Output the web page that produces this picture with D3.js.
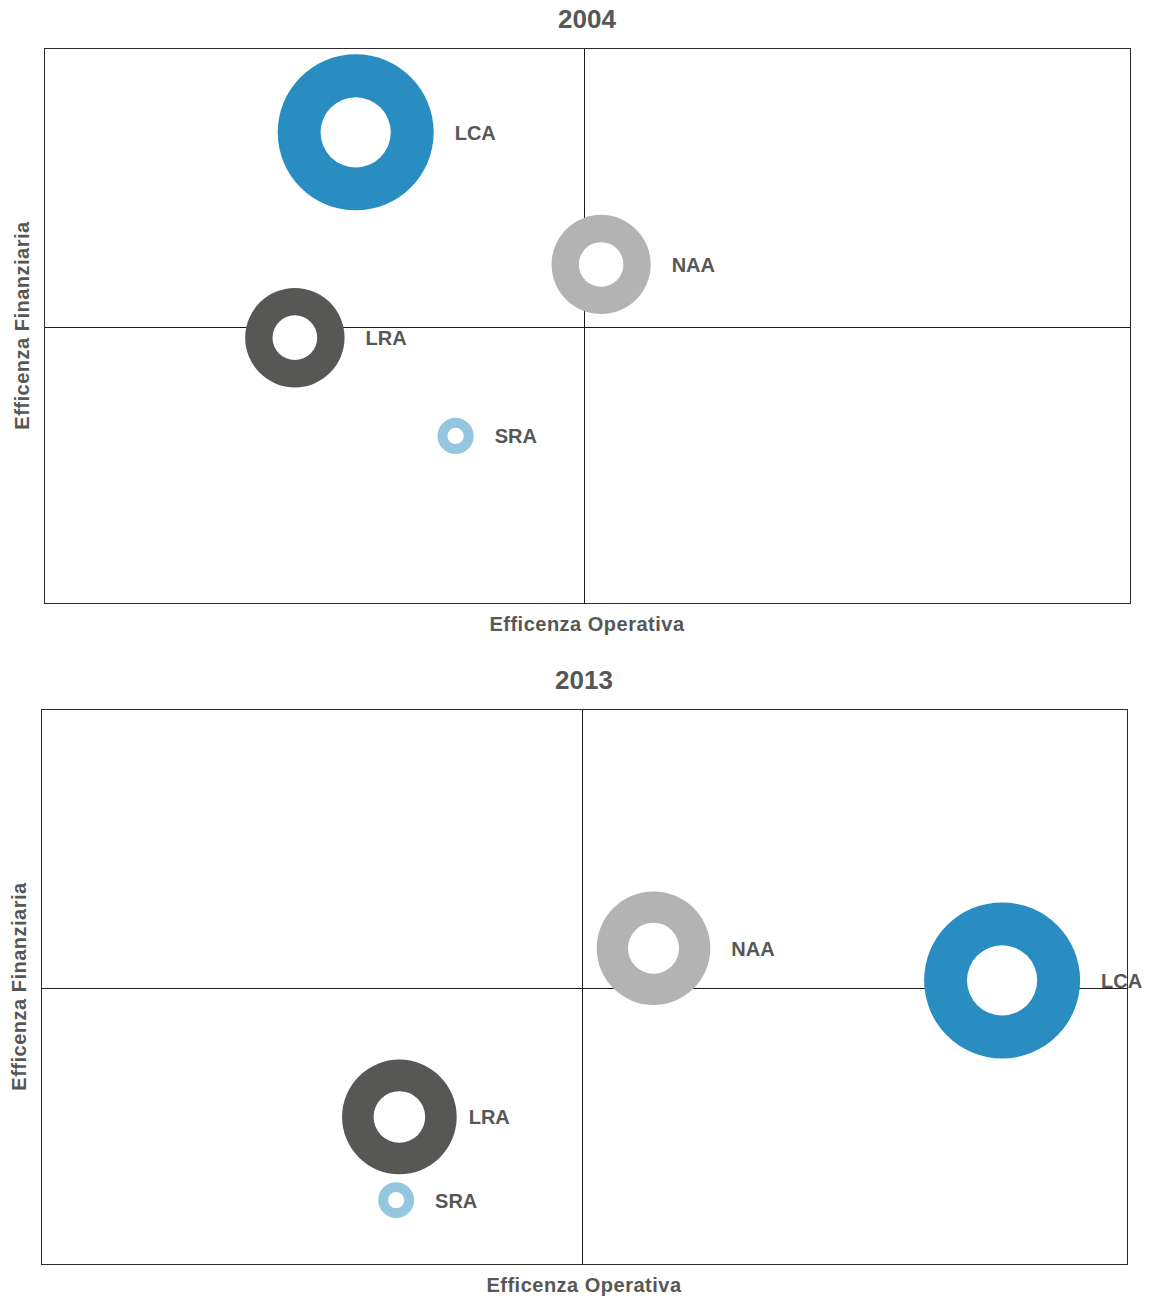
<!DOCTYPE html>
<html lang="it">
<head>
<meta charset="utf-8">
<title>Efficenza Operativa vs Efficenza Finanziaria — 2004 / 2013</title>
<script src="https://cdn.jsdelivr.net/npm/d3@7/dist/d3.min.js"></script>
<style>
  html, body { margin: 0; padding: 0; background: #fff; }
  svg { display: block; }
  text { font-family: "Liberation Sans", Arial, Helvetica, sans-serif; font-weight: bold; fill: #575756; }
</style>
</head>
<body>
<script>
// ---- data ---------------------------------------------------------------
const years = ["2004", "2013"];
const companies = ["LCA", "NAA", "LRA", "SRA"];
const companyColors = ["#2a8dc1", "#b3b3b3", "#575756", "#94c6e0"];

// Operating efficiency (x, 0–100) per company, one array per year
const operativa2004 = [28.7, 51.3, 23.1, 37.9];
const operativa2013 = [88.5, 56.4, 33.0, 32.7];

// Financial efficiency (y, 0–100)
const finanziaria2004 = [84.8, 61.0, 47.8, 30.1];
const finanziaria2013 = [51.1, 56.9, 26.5, 11.5];

// Bubble size (relative weight)
const peso2004 = [100, 40.4, 40.6, 5.4];
const peso2013 = [100, 53.0, 54.0, 5.3];

// Quadrant dividers for each year (x, y)
const dividerX = [49.7, 49.8];
const dividerY = [49.7, 49.8];

const xAxisLabel = "Efficenza Operativa";
const yAxisLabel = "Efficenza Finanziaria";

// ---- layout -------------------------------------------------------------
const W = 1156, H = 1297;
const panels = [
  { left: 44, top: 48, right: 1130, bottom: 603 },
  { left: 41, top: 709, right: 1127, bottom: 1264 }
];
const maxRadius = 78;
const holeRatio = 0.45;
const labelGap = 21;
// per-label horizontal nudges (px), one array per year
const labelNudge = [[0, 0, 0, 0], [0, 0, -9, 0]];

const series = [
  { x: operativa2004, y: finanziaria2004, size: peso2004 },
  { x: operativa2013, y: finanziaria2013, size: peso2013 }
];

const svg = d3.select("body").append("svg")
  .attr("width", W).attr("height", H);

const r = d3.scaleSqrt().domain([0, 100]).range([0, maxRadius]);

years.forEach((year, i) => {
  const p = panels[i];
  const s = series[i];
  const x = d3.scaleLinear().domain([0, 100]).range([p.left, p.right]);
  const y = d3.scaleLinear().domain([0, 100]).range([p.bottom, p.top]);
  const g = svg.append("g");
  const cxMid = (p.left + p.right) / 2;
  const cyMid = (p.top + p.bottom) / 2;

  // title
  g.append("text")
    .attr("x", cxMid).attr("y", p.top - 20)
    .attr("text-anchor", "middle")
    .style("font-size", "26px")
    .text(year);

  // quadrant dividers
  g.append("line")
    .attr("x1", Math.round(x(dividerX[i])) + 0.5).attr("x2", Math.round(x(dividerX[i])) + 0.5)
    .attr("y1", p.top).attr("y2", p.bottom)
    .attr("stroke", "#1a1a1a").attr("stroke-width", 1);
  g.append("line")
    .attr("x1", p.left).attr("x2", p.right)
    .attr("y1", Math.round(y(dividerY[i])) + 0.5).attr("y2", Math.round(y(dividerY[i])) + 0.5)
    .attr("stroke", "#1a1a1a").attr("stroke-width", 1);

  // bubbles (rings with a white centre)
  const rows = companies.map((c, k) => ({
    name: c, color: companyColors[k],
    x: s.x[k], y: s.y[k], size: s.size[k], nudge: labelNudge[i][k]
  }));

  const node = g.selectAll("g.bubble").data(rows).join("g")
    .attr("class", "bubble")
    .attr("transform", d => `translate(${x(d.x)},${y(d.y)})`);

  node.append("circle")
    .attr("r", d => r(d.size))
    .attr("fill", d => d.color);

  node.append("circle")
    .attr("r", d => r(d.size) * holeRatio)
    .attr("fill", "#fff");

  node.append("text")
    .attr("x", d => r(d.size) + labelGap + d.nudge)
    .attr("y", 7.5)
    .style("font-size", "20px")
    .text(d => d.name);

  // frame
  g.append("rect")
    .attr("x", p.left + 0.5).attr("y", p.top + 0.5)
    .attr("width", p.right - p.left).attr("height", p.bottom - p.top)
    .attr("fill", "none").attr("stroke", "#2b2b2b").attr("stroke-width", 1);

  // axis titles
  g.append("text")
    .attr("x", cxMid).attr("y", p.bottom + 28)
    .attr("text-anchor", "middle")
    .style("font-size", "20px").style("letter-spacing", "0.5px")
    .text(xAxisLabel);

  g.append("text")
    .attr("transform", `translate(${p.left - 15.5},${cyMid}) rotate(-90)`)
    .attr("text-anchor", "middle")
    .style("font-size", "20px").style("letter-spacing", "0.5px")
    .text(yAxisLabel);
});
</script>
</body>
</html>
